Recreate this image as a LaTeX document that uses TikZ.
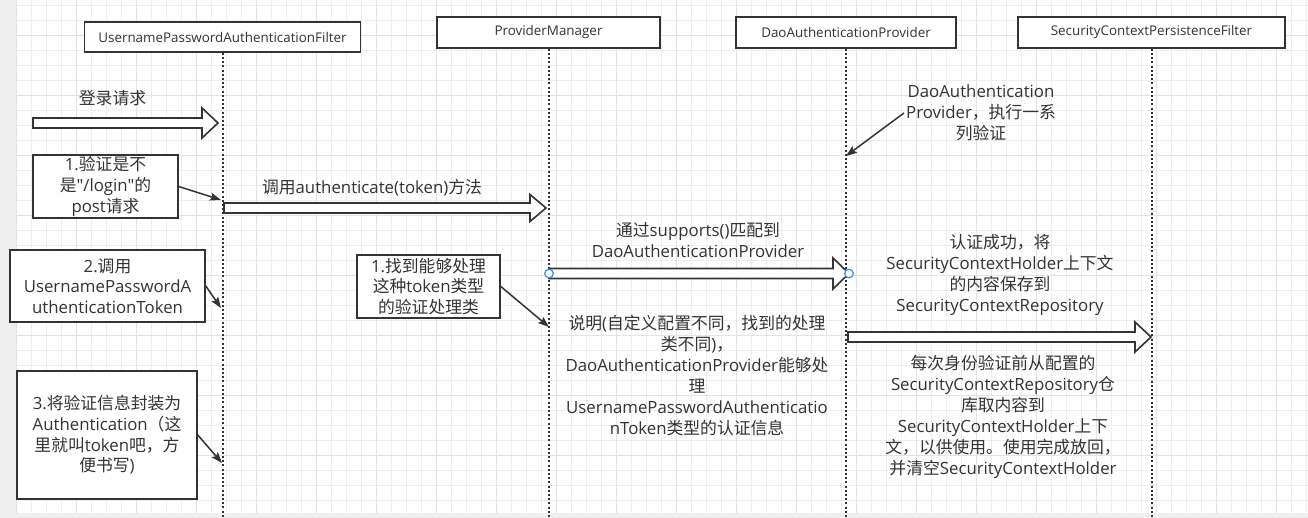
\documentclass[tikz,border=0pt]{standalone}
\usepackage{fontspec}
\setmainfont{Open Sans}[Ligatures=TeXOff]
\newfontfamily\cjkfont{Noto Sans CJK SC}
\usetikzlibrary{calc,arrows.meta}
\XeTeXinterchartokenstate=1
\newXeTeXintercharclass\CJKcls
\newcount\cjkcnt
\cjkcnt="3000 \loop\XeTeXcharclass\cjkcnt=\CJKcls\advance\cjkcnt by 1\relax\ifnum\cjkcnt<"3040 \repeat
\cjkcnt="4E00 \loop\XeTeXcharclass\cjkcnt=\CJKcls\advance\cjkcnt by 1\relax\ifnum\cjkcnt<"A000 \repeat
\cjkcnt="FF00 \loop\XeTeXcharclass\cjkcnt=\CJKcls\advance\cjkcnt by 1\relax\ifnum\cjkcnt<"FFF0 \repeat
\XeTeXinterchartoks 0 \CJKcls = {\cjkfont}
\XeTeXinterchartoks 4095 \CJKcls = {\cjkfont}
\XeTeXinterchartoks \CJKcls 0 = {\normalfont}
\XeTeXinterchartoks \CJKcls 4095 = {\normalfont}
\definecolor{outer}{HTML}{EFEFEF}
\definecolor{gridminor}{HTML}{EEEEEE}
\definecolor{gridmajor}{HTML}{E3E3E3}
\definecolor{ink}{HTML}{333333}
\definecolor{handleblue}{HTML}{3B8EEA}
\newcommand\blockarr[3]{\draw[blockarrow] let \p1=(#1), \p2=(#2) in
  (\x1,\y1+5pt) -- (\x2-16pt,\y1+5pt) -- (\x2-16pt,\y1+#3pt) -- (\x2,\y1) --
  (\x2-16pt,\y1-#3pt) -- (\x2-16pt,\y1-5pt) -- (\x1,\y1-5pt) -- cycle;}
\begin{document}
\begin{tikzpicture}[x=1pt,y=-1pt,
  hdr/.style={draw=ink,line width=1.6pt,fill=white,inner sep=0pt,font=\fontsize{13.4}{16}\selectfont,text=ink},
  note/.style={draw=ink,line width=1.6pt,fill=white,inner sep=0pt,align=center,font=\fontsize{16.8}{20.7}\selectfont,text=ink},
  lbl/.style={inner sep=0pt,align=center,font=\fontsize{16.8}{21}\selectfont,text=ink},
  lifeline/.style={draw=ink,line width=2pt,dash pattern=on 2pt off 2.2pt},
  ptr/.style={draw=ink,line width=1.5pt,-{Stealth[length=11pt,width=8pt,inset=2pt]}},
  blockarrow/.style={draw=ink,line width=1.6pt,fill=white,line join=miter},
  handle/.style={draw=handleblue,line width=1.2pt,fill=white}]
\useasboundingbox (0,0) rectangle (1308,518);
% background and grid
\fill[outer] (0,0) rectangle (1308,518);
\fill[white] (16,0) rectangle (1308,513);
\foreach \i in {0,...,86} \draw[gridminor,line width=0.9pt] (16+15*\i,0) -- (16+15*\i,513);
\foreach \j in {0,...,33} \draw[gridminor,line width=0.9pt] (16,5+15*\j) -- (1308,5+15*\j);
\foreach \i in {0,...,21} \draw[gridmajor,line width=0.9pt] (16+60*\i,0) -- (16+60*\i,513);
\foreach \j in {0,...,7} \draw[gridmajor,line width=0.9pt] (16,35+60*\j) -- (1308,35+60*\j);
% headers
\node[hdr,minimum width=276pt,minimum height=30pt] (h1) at (222.5,37) {UsernamePasswordAuthenticationFilter};
\node[hdr,minimum width=223pt,minimum height=31pt] (h2) at (548.5,32.5) {ProviderManager};
\node[hdr,minimum width=220pt,minimum height=31pt] (h3) at (846,32.5) {DaoAuthenticationProvider};
\node[hdr,minimum width=267pt,minimum height=31pt] (h4) at (1151.5,32.5) {SecurityContextPersistenceFilter};
% lifelines
\coordinate (e1) at (h1.south |- 0,518);
\coordinate (e2) at (h2.south |- 0,518);
\coordinate (e3) at (h3.south |- 0,518);
\coordinate (e4) at (h4.south |- 0,518);
\draw[lifeline] (h1.south) -- (e1);
\draw[lifeline] (h2.south) -- (e2);
\draw[lifeline] (h3.south) -- (e3);
\draw[lifeline] (h4.south) -- (e4);
% block arrows
\coordinate (r0s) at (33,123);   \coordinate (r0e) at (218,123);
\coordinate (r1s) at (224,208);  \coordinate (r1e) at (546,208);
\coordinate (r2s) at (549,273.5);\coordinate (r2e) at (849,273.5);
\coordinate (r3s) at (848,337);  \coordinate (r3e) at (1151,337);
\blockarr{r0s}{r0e}{15}
\blockarr{r1s}{r1e}{13.5}
\blockarr{r2s}{r2e}{15.5}
\blockarr{r3s}{r3e}{15}
% note boxes
\node[note,minimum width=145pt,minimum height=63pt] (n1) at (105.5,186.5) {1.验证是不\\是"/login"的\\post请求};
\node[note,minimum width=195pt,minimum height=72pt] (n2) at (107.5,286) {2.调用\\UsernamePasswordA\\uthenticationToken};
\node[note,minimum width=143pt,minimum height=63pt] (n3) at (428.5,286.5) {1.找到能够处理\\这种token类型\\的验证处理类};
\node[note,minimum width=180pt,minimum height=128pt] (n4) at (107,435) {3.将验证信息封装为\\Authentication（这\\里就叫token吧，方\\便书写)};
% labels
\node[lbl] (t0) at (112.5,98) {登录请求};
\node[lbl] (t1) at (372,188) {调用authenticate(token)方法};
\node[lbl] (t2) at (698,240) {通过supports()匹配到\\DaoAuthenticationProvider};
\node[lbl] (t3) at (697,375.5) {说明(自定义配置不同，找到的处理\\类不同)，\\DaoAuthenticationProvider能够处\\理\\UsernamePasswordAuthenticatio\\nToken类型的认证信息};
\node[lbl] (tdao) at (981,113) {DaoAuthentication\\Provider，执行一系\\列验证};
\node[lbl] (t4) at (1000,275) {认证成功，将\\SecurityContextHolder上下文\\的内容保存到\\SecurityContextRepository};
\node[lbl] (t5) at (1003,417) {每次身份验证前从配置的\\SecurityContextRepository仓\\库取内容到\\SecurityContextHolder上下\\文，以供使用。使用完成放回，\\并清空SecurityContextHolder};
% pointer arrows
\coordinate (a1) at (221,200);
\coordinate (a2) at (221,308);
\coordinate (a3) at (549,327);
\coordinate (a4) at (222,463);
\coordinate (a5) at (846,156);
\draw[ptr] (n1.east) -- (a1);
\draw[ptr] (n2.east) -- (a2);
\draw[ptr] (n3.east) -- (a3);
\draw[ptr] (n4.east) -- (a4);
\draw[ptr] ([xshift=-2pt]tdao.west) -- (a5);
% selection handles
\draw[handle] (r2s) circle[radius=4.3pt];
\draw[handle] (r2e) circle[radius=4.3pt];
\end{tikzpicture}
\end{document}
